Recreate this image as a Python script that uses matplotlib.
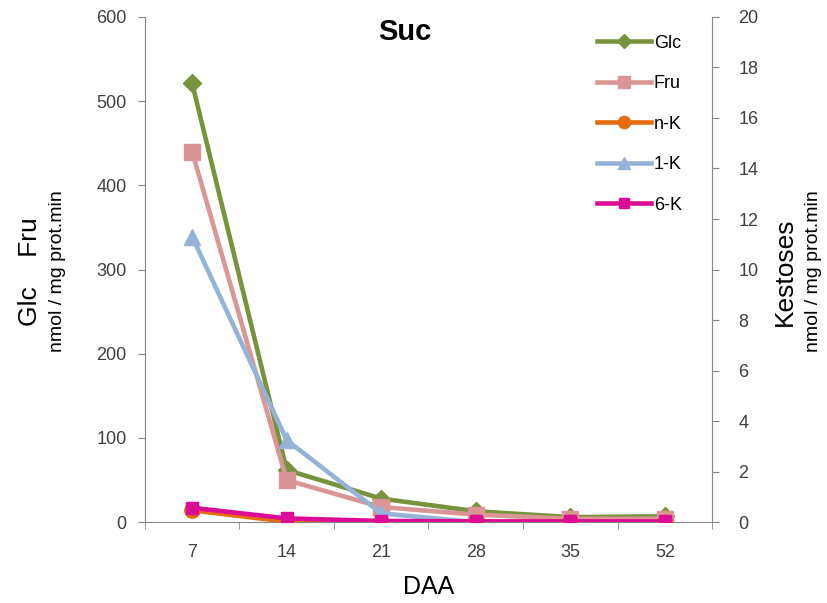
import matplotlib.pyplot as plt
import numpy as np

DAA = ["7", "14", "21", "28", "35", "52"]

# left axis (nmol / mg prot.min)
GLC = [521, 62, 28, 13, 6, 7]
FRU = [440, 50, 18, 9, 4, 4]

# right axis, kestoses
NK = [0.47, 0.02, 0.02, 0.02, 0.02, 0.02]
K1 = [11.3, 3.25, 0.35, 0.0, 0.0, 0.0]
K6 = [0.57, 0.15, 0.05, 0.03, 0.03, 0.03]

GRAY = "#868686"
TXT = "#404040"

plt.rcParams["font.family"] = ["Liberation Sans", "DejaVu Sans"]

fig = plt.figure(figsize=(8.28, 6.03), dpi=100)
ax = fig.add_axes([0.175, 0.134, 0.685, 0.838])
ax2 = ax.twinx()

x = np.arange(len(DAA))
lw = 3.3
h1, = ax.plot(x, GLC, color="#77933C", lw=lw, marker="D", ms=9, label="Glc")
h2, = ax.plot(x, FRU, color="#D99694", lw=lw, marker="s", ms=11, label="Fru")
h3, = ax2.plot(x, NK, color="#E46C0A", lw=lw, marker="o", ms=11, label="n-K")
h4, = ax2.plot(x, K1, color="#95B3D7", lw=lw, marker="^", ms=11, label="1-K")
h5, = ax2.plot(x, K6, color="#DD0C95", lw=lw, marker="s", ms=9, label="6-K")

ax.set_xlim(-0.5, len(DAA) - 0.5)
ax.set_ylim(0, 600)
ax2.set_ylim(0, 20)
ax.set_yticks(range(0, 601, 100))
ax2.set_yticks(range(0, 21, 2))
ax.set_xticks(x)
ax.set_xticklabels(DAA)
ax.set_xticks(np.arange(-0.5, len(DAA), 1), minor=True)
ax.tick_params(axis="x", which="major", length=0, pad=16, labelsize=13, labelcolor=TXT)
ax.tick_params(axis="x", which="minor", length=5, color=GRAY, direction="out")
ax.tick_params(axis="y", length=5, color=GRAY, labelsize=13, labelcolor=TXT, pad=8)
ax2.tick_params(axis="y", length=5, color=GRAY, labelsize=13, labelcolor=TXT, pad=14)

for a in (ax, ax2):
    a.spines["top"].set_visible(False)
    for s in ("left", "right", "bottom"):
        a.spines[s].set_color(GRAY)
ax.spines["right"].set_visible(False)
ax2.spines["left"].set_visible(False)
ax2.spines["bottom"].set_visible(False)

ax.set_xlabel("DAA", fontsize=18, labelpad=10)
fig.text(0.489, 0.947, "Suc", fontsize=21, fontweight="bold", ha="center", va="center")

fig.text(0.036, 0.55, "Glc    Fru", rotation=90, fontsize=19, ha="center", va="center")
fig.text(0.070, 0.55, "nmol / mg prot.min", rotation=90, fontsize=14, ha="center", va="center")
fig.text(0.948, 0.55, "Kestoses", rotation=90, fontsize=19, ha="center", va="center")
fig.text(0.983, 0.55, "nmol / mg prot.min", rotation=90, fontsize=14, ha="center", va="center")

ax2.legend(handles=[h1, h2, h3, h4, h5], loc="upper right", bbox_to_anchor=(0.975, 0.997),
           frameon=False, fontsize=13, handlelength=3.0, labelspacing=1.3,
           handletextpad=0.15, markerscale=0.8)

fig.savefig("out.png", dpi=100)
